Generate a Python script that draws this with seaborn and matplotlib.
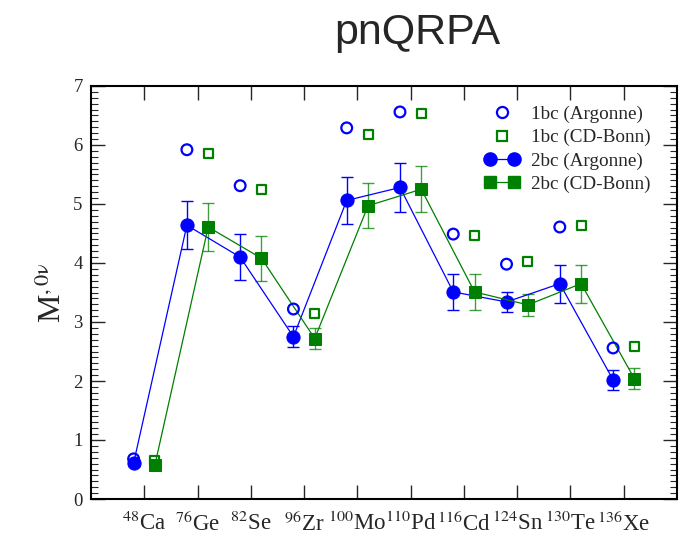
import numpy as np
import matplotlib
matplotlib.use("Agg")
import matplotlib.pyplot as plt
from matplotlib.lines import Line2D
from matplotlib.ticker import MultipleLocator
import seaborn as sns

# ---- data ----
nuclei = ["$^{48}$Ca", "$^{76}$Ge", "$^{82}$Se", "$^{96}$Zr", "$^{100}$Mo",
          "$^{110}$Pd", "$^{116}$Cd", "$^{124}$Sn", "$^{130}$Te", "$^{136}$Xe"]
one_bc_argonne = [0.68, 5.92, 5.31, 3.22, 6.29, 6.56, 4.49, 3.98, 4.61, 2.56]
one_bc_cdbonn  = [0.65, 5.85, 5.25, 3.14, 6.17, 6.54, 4.47, 4.03, 4.64, 2.59]
two_bc_argonne = [0.61, 4.64, 4.10, 2.75, 5.06, 5.28, 3.51, 3.34, 3.65, 2.02]
two_bc_cdbonn  = [0.58, 4.61, 4.08, 2.72, 4.97, 5.25, 3.51, 3.29, 3.65, 2.04]
err_argonne    = [0.05, 0.41, 0.39, 0.18, 0.40, 0.41, 0.31, 0.17, 0.32, 0.17]
err_cdbonn     = [0.05, 0.40, 0.38, 0.17, 0.38, 0.39, 0.31, 0.19, 0.32, 0.18]
legend_labels = ["1bc (Argonne)", "1bc (CD-Bonn)", "2bc (Argonne)", "2bc (CD-Bonn)"]

sns.set_style("ticks")
plt.rcParams["font.family"] = ["Liberation Serif", "DejaVu Serif"]
plt.rcParams["mathtext.fontset"] = "stix"

BLUE = "#0000ff"
GREEN = "#008000"

fig = plt.figure(figsize=(6.81, 5.37), dpi=100)
ax = fig.add_axes([91/681, 1 - 499/537, (677-91)/681, (499-86)/537])

pos = np.arange(1, len(nuclei) + 1)
xa = pos - 0.2
xc = pos + 0.2

ax.errorbar(xa, two_bc_argonne, yerr=err_argonne, fmt="none", ecolor=BLUE,
            elinewidth=1.0, capsize=4, capthick=1.0, zorder=2)
ax.errorbar(xc, two_bc_cdbonn, yerr=err_cdbonn, fmt="none", ecolor=GREEN,
            elinewidth=1.0, capsize=4, capthick=1.0, alpha=0.75, zorder=2)

sns.lineplot(x=xa, y=two_bc_argonne, estimator=None, sort=False, color=BLUE,
             linewidth=0.9, marker="o", markersize=9.5, markeredgecolor=BLUE,
             ax=ax, zorder=3)
sns.lineplot(x=xc, y=two_bc_cdbonn, estimator=None, sort=False, color=GREEN,
             linewidth=0.9, marker="s", markersize=8, markeredgecolor=GREEN,
             ax=ax, zorder=3)
sns.scatterplot(x=xa, y=one_bc_argonne, marker="o", s=60, facecolor="none",
                edgecolor=BLUE, linewidth=1.6, ax=ax, zorder=4)
sns.scatterplot(x=xc, y=one_bc_cdbonn, marker="s", s=42, facecolor="none",
                edgecolor=GREEN, linewidth=1.6, ax=ax, zorder=4)

ax.set_xlim(0, 11)
ax.set_ylim(0, 7)
ax.set_xticks(pos)
ax.set_xticklabels(nuclei, fontsize=16.5)
ax.yaxis.set_major_locator(MultipleLocator(1))
ax.yaxis.set_minor_locator(MultipleLocator(0.1))
ax.tick_params(axis="y", which="major", direction="in", length=10, width=1,
               left=True, right=True, labelsize=13.5, pad=6)
ax.tick_params(axis="y", which="minor", direction="in", length=5, width=0.8,
               left=True, right=True)
ax.tick_params(axis="x", which="major", direction="in", length=10, width=1,
               bottom=True, top=True, pad=9)
for sp in ax.spines.values():
    sp.set_linewidth(1.5)
    sp.set_color("black")

ax.set_ylabel("M$^{,0\\mathrm{\\nu}}$", fontsize=23, labelpad=4)
ax.set_xlabel("")

handles = [
    Line2D([], [], linestyle="none", marker="o", markersize=8, markerfacecolor="none",
           markeredgecolor=BLUE, markeredgewidth=1.6),
    Line2D([], [], linestyle="none", marker="s", markersize=6.5, markerfacecolor="none",
           markeredgecolor=GREEN, markeredgewidth=1.6),
    Line2D([], [], color=BLUE, linewidth=0.9, marker="o", markersize=9.5),
    Line2D([], [], color=GREEN, linewidth=0.9, marker="s", markersize=8),
]
leg = ax.legend(handles, legend_labels, loc="upper right", frameon=False,
                fontsize=13.8, numpoints=2, handlelength=1.85, handletextpad=0.6,
                labelspacing=0.3, bbox_to_anchor=(0.975, 0.98), borderaxespad=0.2)
for h in leg.legend_handles[:2]:
    h.set_markevery([0])
    h.set_xdata([np.mean(h.get_xdata())] * 2)

fig.text(417/681, 1 - 33/537, "pnQRPA", fontsize=31, ha="center", va="center",
         family=["Liberation Sans", "DejaVu Sans"])

fig.savefig("out.png", dpi=100)
